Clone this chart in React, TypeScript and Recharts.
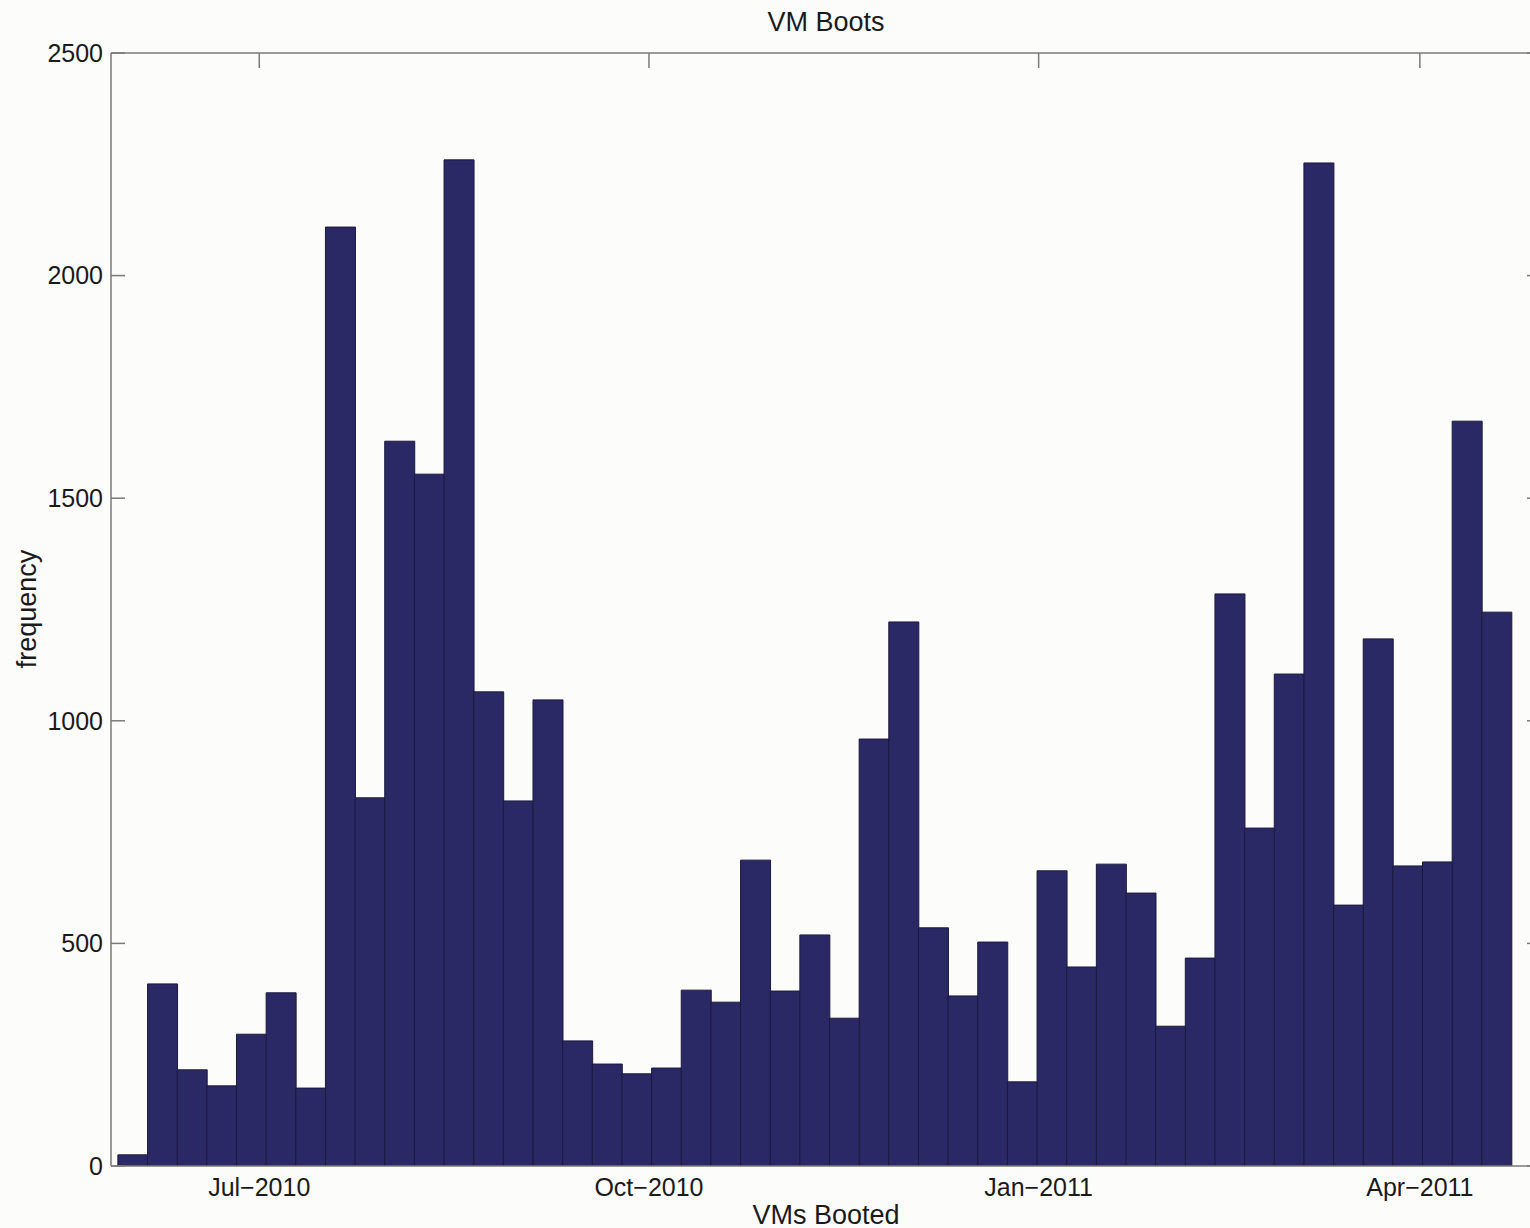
import React from 'react';
import { ComposedChart, Bar, XAxis, YAxis } from 'recharts';

// Time origin of the date axis: 2010-05-27 (values are days since then)
const DAY = 86400000;
const origin = Date.UTC(2010, 4, 27);
const toDays = (iso: string) => (Date.parse(iso) - origin) / DAY;

// Weekly histogram bins: first bin starts 2010-05-28 15:00, width 7 days
const firstBinStart = '2010-05-28T15:00:00Z';
const binWidthDays = 7;
const frequency = [
  25, 409, 216, 180, 296, 389, 175, 2109, 827, 1628,
  1554, 2260, 1065, 820, 1047, 281, 229, 207, 220, 395,
  368, 687, 393, 519, 332, 959, 1222, 535, 382, 503,
  189, 663, 447, 678, 613, 314, 467, 1285, 759, 1105,
  2253, 586, 1184, 674, 683, 1673, 1244,
];

// Axis range and ticks
const dateRange = ['2010-05-27T00:00:00Z', '2011-04-27T00:00:00Z'];
const dateTickDates = ['2010-07-01', '2010-10-01', '2011-01-01', '2011-04-01'];
const dateTickLabels = ['Jul\u22122010', 'Oct\u22122010', 'Jan\u22122011', 'Apr\u22122011'];
const yTicks = [0, 500, 1000, 1500, 2000, 2500];

const dateDomain: [number, number] = [toDays(dateRange[0]), toDays(dateRange[1])];
const dateTicks = dateTickDates.map((d) => toDays(d + 'T00:00:00Z'));
const tickLabelOf = (v: number) => {
  const i = dateTicks.findIndex((t) => Math.abs(t - v) < 1e-6);
  return i >= 0 ? dateTickLabels[i] : '';
};

const start0 = toDays(firstBinStart);
const data = frequency.map((v, i) => ({
  x: start0 + i * binWidthDays + binWidthDays / 2,
  frequency: v,
}));

const FONT = '"Liberation Sans", Arial, Helvetica, sans-serif';
const AXIS = '#7a7a7a';
const TEXT = '#1a1a1a';

export default function App() {
  return (
    <div
      style={{
        position: 'absolute',
        left: 0,
        top: 0,
        width: 1530,
        height: 1228,
        background: '#fcfcfa',
        fontFamily: FONT,
        overflow: 'hidden',
      }}
    >
      <ComposedChart
        width={1531}
        height={1228}
        data={data}
        margin={{ top: 52, right: 0, bottom: 0, left: 0 }}
        barCategoryGap={0}
        barGap={0}
      >
        <XAxis
          xAxisId="dates"
          dataKey="x"
          type="number"
          domain={dateDomain}
          allowDataOverflow
          ticks={dateTicks}
          interval={0}
          tickFormatter={tickLabelOf}
          height={62}
          axisLine={{ stroke: AXIS, strokeWidth: 1.5 }}
          tickLine={false}
          tickSize={0}
          tickMargin={12}
          tick={{ fill: TEXT, fontSize: 25, fontFamily: FONT }}
        />
        <XAxis
          xAxisId="top"
          dataKey="x"
          orientation="top"
          type="number"
          domain={dateDomain}
          allowDataOverflow
          ticks={dateTicks}
          interval={0}
          tickFormatter={() => ''}
          height={1}
          axisLine={{ stroke: AXIS, strokeWidth: 1.5 }}
          tickLine={{ stroke: AXIS, strokeWidth: 1.5 }}
          tickSize={-15}
          tickMargin={0}
        />
        <YAxis
          yAxisId="left"
          width={111}
          domain={[0, 2500]}
          allowDataOverflow
          ticks={yTicks}
          interval={0}
          axisLine={{ stroke: AXIS, strokeWidth: 1.5 }}
          tickLine={{ stroke: AXIS, strokeWidth: 1.5 }}
          tickSize={-14}
          tickMargin={22}
          tick={{ fill: TEXT, fontSize: 25, fontFamily: FONT }}
        />
        <YAxis
          yAxisId="right"
          orientation="right"
          width={1}
          domain={[0, 2500]}
          allowDataOverflow
          ticks={yTicks}
          interval={0}
          axisLine={false}
          tickLine={{ stroke: AXIS, strokeWidth: 1.5 }}
          tickSize={-3}
          tickMargin={0}
          tickFormatter={() => ''}
        />
        <Bar
          dataKey="frequency"
          xAxisId="dates"
          yAxisId="left"
          fill="#2b2866"
          stroke="#1b1a3c"
          strokeWidth={1}
          isAnimationActive={false}
        />
      </ComposedChart>
      <div
        style={{
          position: 'absolute',
          left: 826,
          top: 22,
          transform: 'translate(-50%, -50%)',
          fontSize: 27,
          lineHeight: 1,
          color: TEXT,
          whiteSpace: 'nowrap',
        }}
      >
        VM Boots
      </div>
      <div
        style={{
          position: 'absolute',
          left: 826,
          top: 1215,
          transform: 'translate(-50%, -50%)',
          fontSize: 27,
          lineHeight: 1,
          color: TEXT,
          whiteSpace: 'nowrap',
        }}
      >
        VMs Booted
      </div>
      <div
        style={{
          position: 'absolute',
          left: 27,
          top: 609,
          transform: 'translate(-50%, -50%) rotate(-90deg)',
          fontSize: 27,
          lineHeight: 1,
          color: TEXT,
          whiteSpace: 'nowrap',
        }}
      >
        frequency
      </div>
    </div>
  );
}
